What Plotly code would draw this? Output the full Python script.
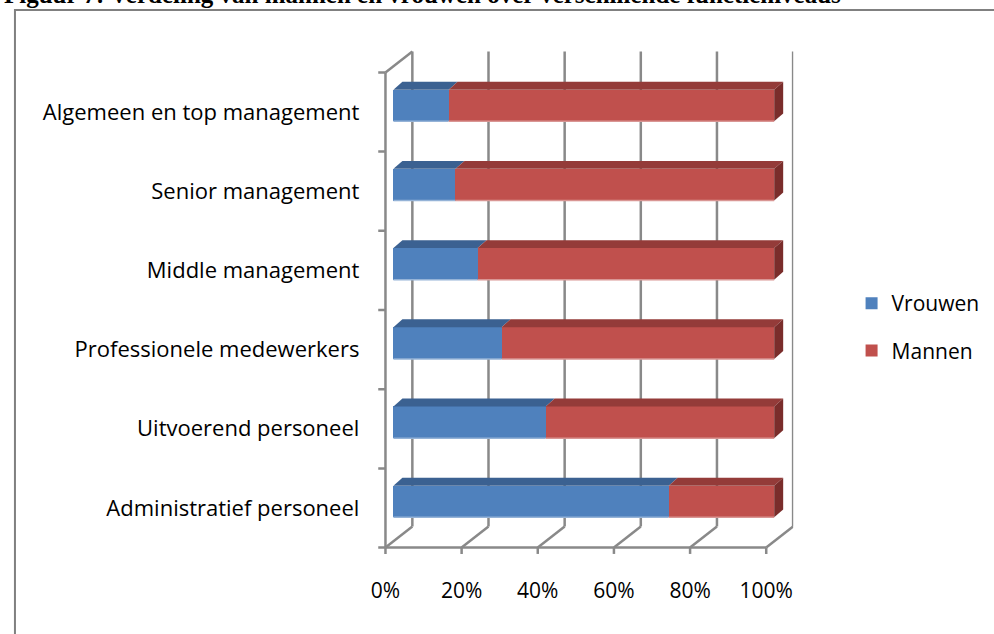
import plotly.graph_objects as go

# ---- data ----
categories = ["Administratief personeel", "Uitvoerend personeel", "Professionele medewerkers",
              "Middle management", "Senior management", "Algemeen en top management"]
vrouwen = [72.3, 40.0, 28.4, 22.1, 16.3, 14.5]
mannen = [round(100 - v, 1) for v in vrouwen]
x_ticks = [0, 20, 40, 60, 80, 100]
x_ticklabels = ["0%", "20%", "40%", "60%", "80%", "100%"]
series_names = ["Vrouwen", "Mannen"]
title_text = "Figuur 7: Verdeling van mannen en vrouwen over verschillende functieniveaus"

# ---- style ----
W, H = 994, 634
BLUE, RED = "#4F81BD", "#C0504D"
BLUE_TOP, RED_TOP, RED_SIDE = "#3B6191", "#943B39", "#7A2D2B"
GRID = "#898989"
FONT = "Open Sans"
FS = 21

# 3D offsets (in data units) relative to the bar-front plane
DX_TOP, DY_TOP = 2.36, 0.10          # depth of the bars
FRONT = (-2.09, -0.082)              # front (axis) plane
BACK = (4.97, 0.183)                 # back wall plane
BAR_W = 0.40

n = len(categories)
ypos = list(range(n))

fig = go.Figure()
fig.add_trace(go.Bar(y=ypos, x=vrouwen, orientation="h", name=series_names[0],
                     marker=dict(color=BLUE, line=dict(width=0)), width=BAR_W,
                     legendgroup="a", hoverinfo="x+name"))
fig.add_trace(go.Bar(y=ypos, x=mannen, orientation="h", name=series_names[1],
                     marker=dict(color=RED, line=dict(width=0)), width=BAR_W,
                     legendgroup="b", hoverinfo="x+name"))

shapes = []

def line(x0, y0, x1, y1, layer="below", color=GRID, width=2.5):
    shapes.append(dict(type="line", xref="x", yref="y", x0=x0, y0=y0, x1=x1, y1=y1,
                       line=dict(color=color, width=width), layer=layer))

def poly(pts, color, layer="above"):
    p = "M " + " L ".join(f"{a},{b}" for a, b in pts) + " Z"
    shapes.append(dict(type="path", xref="x", yref="y", path=p, fillcolor=color,
                       line=dict(width=0), layer=layer))

ylo, yhi = -0.5, n - 0.5
# back wall gridlines
for v in x_ticks:
    line(v + BACK[0], ylo + BACK[1], v + BACK[0], yhi + BACK[1])
# left wall front line + top diagonal
line(FRONT[0], ylo + FRONT[1], FRONT[0], yhi + FRONT[1])
line(FRONT[0], yhi + FRONT[1], BACK[0], yhi + BACK[1])
# category tick marks on front wall
for k in range(n + 1):
    yb = ylo + k + FRONT[1]
    line(FRONT[0] - 1.9, yb, FRONT[0], yb)
# floor
line(FRONT[0], ylo + FRONT[1], 100 + FRONT[0], ylo + FRONT[1])
for v in x_ticks:
    line(v + FRONT[0], ylo + FRONT[1], v + BACK[0], ylo + BACK[1])
    line(v + FRONT[0], ylo + FRONT[1], v + FRONT[0], ylo + FRONT[1] - 0.08)

# 3D bar faces (top + right side), computed from the data
for i in ypos:
    top = i + BAR_W / 2
    bot = i - BAR_W / 2
    x0 = 0
    for val, col in ((vrouwen[i], BLUE_TOP), (mannen[i], RED_TOP)):
        x1 = x0 + val
        poly([(x0, top), (x1, top), (x1 + DX_TOP, top + DY_TOP), (x0 + DX_TOP, top + DY_TOP)], col)
        x0 = x1
    poly([(x0, bot), (x0, top), (x0 + DX_TOP, top + DY_TOP), (x0 + DX_TOP, bot + DY_TOP)], RED_SIDE)
    # lighter bottom edge of front faces
    line(0, bot, vrouwen[i], bot, layer="above", color="#95B3D7", width=1.5)
    line(vrouwen[i], bot, 100, bot, layer="above", color="#D99694", width=1.5)

# frame around the figure
shapes.append(dict(type="rect", xref="paper", yref="paper",
                   x0=11 / W, x1=1.02, y0=-0.02, y1=1 - 10 / H,
                   line=dict(color="#808080", width=2), layer="below"))

# pixel geometry -> axis domains
px_x0, px_per = 391.0, 3.823
xr = [-5, 105]
xd = [(px_x0 + px_per * xr[0]) / W, (px_x0 + px_per * xr[1]) / W]
py0, py_per = 501.5, 79.2
yr = [-0.75, n - 0.25]
yd = [1 - (py0 - py_per * yr[0]) / H, 1 - (py0 - py_per * yr[1]) / H]

fig.update_layout(
    width=W, height=H, margin=dict(l=0, r=0, t=0, b=0),
    paper_bgcolor="white", plot_bgcolor="rgba(0,0,0,0)",
    barmode="stack", bargap=0.6,
    shapes=shapes,
    font=dict(family=FONT, size=FS, color="#000000"),
    xaxis=dict(range=xr, domain=xd, showgrid=False, zeroline=False, showline=False,
               tickmode="array", tickvals=[v + FRONT[0] for v in x_ticks], ticktext=x_ticklabels,
               ticks="", ticklabelstandoff=15, tickfont=dict(size=FS)),
    yaxis=dict(range=yr, domain=yd, showgrid=False, zeroline=False, showline=False,
               tickmode="array", tickvals=[i + FRONT[1] for i in ypos], ticktext=categories,
               ticks="", ticklabelstandoff=14, tickfont=dict(size=22)),
    legend=dict(x=851 / W, y=1 - 283 / H, xanchor="left", yanchor="top",
                traceorder="grouped", tracegroupgap=17, font=dict(size=FS),
                bgcolor="rgba(0,0,0,0)"),
    annotations=[dict(text="<b>" + title_text + "</b>", xref="paper", yref="paper",
                      x=-2 / W, y=1 + 6 / H, xanchor="left", yanchor="middle", showarrow=False,
                      font=dict(family="Liberation Serif", size=25, color="#000000"))],
)

fig.write_html("out.html")
